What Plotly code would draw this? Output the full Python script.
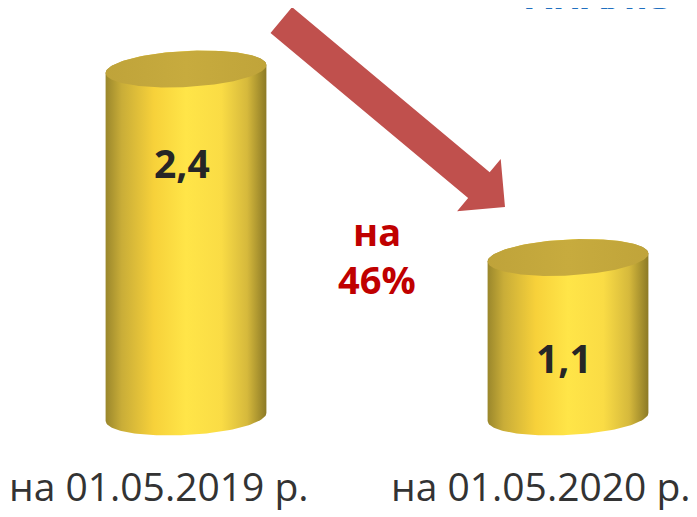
import numpy as np
import plotly.graph_objects as go

# ---- data ----
categories = ["на 01.05.2019 р.", "на 01.05.2020 р."]
values = [2.4, 1.1]
value_labels = ["2,4", "1,1"]
change_text = ["на", "46%"]
title_text = "АНАЛІЗ"

W, H = 697, 517
OFF = 8  # page body margin of the browser
SX = 382.0  # px per x unit
SY = 145.0  # px per y unit
# category 0 at page x=186, value 0 at page y=417
XR = [(0 - (186 - OFF)) / SX, (W - (186 - OFF)) / SX]
YR = [-(H - (417 - OFF)) / SY, (417 - OFF) / SY]

A_PX, B_PX = 80.5, 18.0
TH = np.radians(3.0)


def ell(cx, cy, t):
    px = A_PX * np.cos(t) * np.cos(TH) - B_PX * np.sin(t) * np.sin(TH)
    py = A_PX * np.cos(t) * np.sin(TH) + B_PX * np.sin(t) * np.cos(TH)
    return cx + px / SX, cy + py / SY


t0 = np.arctan2(-B_PX * np.sin(TH), A_PX * np.cos(TH))  # rightmost point

fig = go.Figure()

body_scale = [[0, '#9a872c'], [0.1, '#c9ad38'], [0.3, '#f7d13a'], [0.5, '#ffe548'],
              [0.72, '#fadc45'], [0.88, '#d6b93c'], [1, '#8c7a26']]
cap_scale = [[0, '#bfa33a'], [0.5, '#c7ab3e'], [1, '#c0a43a']]

for i, v in enumerate(values):
    cx = i
    tb = np.linspace(t0 + np.pi, t0 + 2 * np.pi, 80)
    tt = np.linspace(t0, t0 + np.pi, 80)
    xb, yb = ell(cx, 0, tb)
    xt, yt = ell(cx, v, tt)
    xs = np.concatenate([xb, xt, xb[:1]])
    ys = np.concatenate([yb, yt, yb[:1]])
    fig.add_trace(go.Scatter(x=xs, y=ys, mode='lines', fill='toself',
                             line=dict(width=0, color='rgba(0,0,0,0)'),
                             fillgradient=dict(type='horizontal', colorscale=body_scale),
                             hoverinfo='skip', showlegend=False))
    tc = np.linspace(0, 2 * np.pi, 160)
    xc, yc = ell(cx, v, tc)
    fig.add_trace(go.Scatter(x=xc, y=yc, mode='lines', fill='toself',
                             line=dict(width=0, color='rgba(0,0,0,0)'),
                             fillgradient=dict(type='horizontal', colorscale=cap_scale),
                             hoverinfo='skip', showlegend=False))
    fig.add_annotation(x=cx - 0.01, y=1.03 * v - 0.72, text=value_labels[i], showarrow=False,
                       font=dict(family='Open Sans', size=39, color='#262626', weight='bold'))
    fig.add_annotation(x=cx - 0.07, y=-0.47, text=categories[i], showarrow=False,
                       font=dict(family='Open Sans', size=39, color='#333333'))

# change label
fig.add_annotation(x=0.5, y=1.28, text=change_text[0], showarrow=False,
                   font=dict(family='Open Sans', size=38, color='#c00000', weight='bold'))
fig.add_annotation(x=0.5, y=0.95, text=change_text[1], showarrow=False,
                   font=dict(family='Open Sans', size=38, color='#c00000', weight='bold'))

# arrow (decorative) in page-pixel geometry -> paper coords
start = np.array([281.3, 20.0])
tip = np.array([505.0, 207.0])
u = (tip - start) / np.linalg.norm(tip - start)
n = np.array([-u[1], u[0]])
hw, hhw, hl = 16.8, 34.0, 34.0
base = tip - u * hl
pts = [start + n * hw, base + n * hw, base + n * hhw, tip,
       base - n * hhw, base - n * hw, start - n * hw]
path = "M " + " L ".join(f"{(p[0] - OFF) / W:.5f},{1 - (p[1] - OFF) / H:.5f}" for p in pts) + " Z"
fig.add_shape(type='path', xref='paper', yref='paper', path=path,
              fillcolor='#c0504d', line=dict(width=0), layer='below')

# clipped title at top
fig.add_annotation(x=(524 - OFF) / W, y=1, xref='paper', yref='paper', xanchor='left',
                   yanchor='bottom', yshift=-14, text=title_text, showarrow=False,
                   font=dict(family='Open Sans', size=38, color='#1f6fc0', weight='bold'))

fig.update_layout(width=W, height=H, margin=dict(l=0, r=0, t=0, b=0),
                  paper_bgcolor='white', plot_bgcolor='white',
                  xaxis=dict(range=XR, visible=False, fixedrange=True),
                  yaxis=dict(range=YR, visible=False, fixedrange=True),
                  showlegend=False)

fig.write_html("out.html")
